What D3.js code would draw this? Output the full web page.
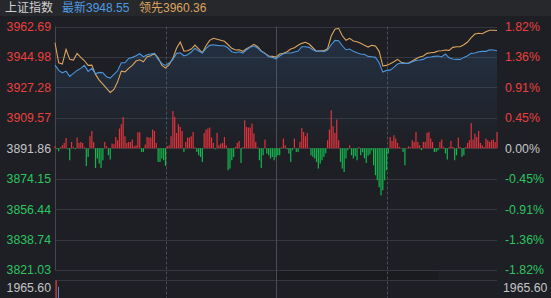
<!DOCTYPE html>
<html><head><meta charset="utf-8">
<script src="https://cdn.jsdelivr.net/npm/d3@7"></script>
<style>
html,body{margin:0;padding:0;background:#1e1f24;overflow:hidden;}
svg{display:block;}
</style></head>
<body><svg id="c" width="551" height="298"></svg>
<script>
// ---------- DATA ----------
const indexName = "上证指数";
const latestLabel = "最新3948.55";
const leadingLabel = "领先3960.36";
const prevClose = 3891.86;
const priceTicks = [3962.69, 3944.98, 3927.28, 3909.57, 3891.86, 3874.15, 3856.44, 3838.74, 3821.03];
const pctLabels = ["1.82%", "1.36%", "0.91%", "0.45%", "0.00%", "-0.45%", "-0.91%", "-1.36%", "-1.82%"];
const volumeMaxLabel = "1965.60";
const volumeFirst = [1965.60, 1270];   // first-minute volume bars (red, blue)

// minute of day for line samples (every 2 minutes, 0..240)
const lineMinutes = d3.range(0, 241, 2);
// 最新 (index, blue)
const latest = [
 3940.24,3937.15,3935.75,3936.75,3933.66,3935.40,3937.15,3938.32,3940.07,3936.57,
 3938.32,3935.17,3935.99,3935.75,3933.42,3932.67,3934.82,3936.92,3941.58,3941.58,
 3944.15,3944.73,3945.66,3946.83,3945.08,3946.25,3946.66,3947.06,3943.57,3941.23,
 3940.07,3941.41,3943.57,3947.06,3947.41,3945.66,3946.25,3947.82,3949.98,3948.40,
 3947.24,3949.98,3951.73,3952.08,3951.73,3951.49,3951.49,3950.15,3948.00,3947.41,
 3948.00,3947.24,3949.16,3950.56,3951.32,3950.15,3948.23,3947.06,3945.08,3944.73,
 3943.92,3945.49,3946.83,3947.24,3947.24,3947.82,3948.40,3950.91,3950.91,3950.56,
 3949.16,3948.23,3948.40,3948.00,3948.99,3952.08,3954.64,3954.41,3951.49,3949.16,
 3949.57,3948.23,3947.41,3946.66,3946.48,3945.31,3945.08,3944.73,3941.58,3936.16,
 3937.15,3937.33,3938.90,3940.83,3941.41,3941.23,3941.23,3942.17,3942.98,3943.16,
 3943.57,3944.73,3944.91,3945.31,3945.49,3945.08,3946.66,3944.50,3943.74,3943.57,
 3943.57,3944.73,3945.66,3947.06,3947.24,3948.00,3948.23,3948.23,3949.16,3948.99,
 3948.55];
// 领先 (leading, orange)
const leading = [
 3953.24,3941.58,3940.83,3949.40,3943.57,3943.16,3947.06,3944.73,3942.75,3940.07,
 3940.24,3934.82,3931.50,3929.17,3926.66,3924.33,3926.08,3930.51,3936.75,3936.34,
 3938.32,3940.07,3942.57,3943.33,3942.17,3945.08,3945.66,3947.06,3944.50,3940.24,
 3938.49,3940.53,3944.15,3949.98,3953.65,3948.40,3948.58,3949.57,3951.90,3949.74,
 3947.41,3951.49,3954.64,3955.81,3955.22,3954.64,3954.06,3952.08,3949.98,3948.99,
 3949.16,3948.23,3949.74,3950.91,3952.31,3950.91,3948.40,3947.06,3945.49,3945.31,
 3944.91,3946.66,3947.06,3948.00,3949.57,3950.33,3951.73,3952.89,3953.48,3952.48,
 3950.33,3948.23,3948.58,3948.58,3949.74,3957.15,3961.05,3961.64,3957.32,3954.64,
 3955.81,3954.23,3953.83,3952.89,3951.73,3950.74,3951.73,3951.32,3948.23,3939.83,
 3940.07,3941.00,3942.17,3943.57,3941.82,3941.23,3941.41,3942.57,3943.92,3944.91,
 3945.49,3947.06,3947.41,3947.65,3948.40,3948.58,3948.99,3948.81,3950.56,3950.91,
 3950.91,3952.08,3953.65,3956.16,3958.31,3958.72,3958.49,3959.65,3960.47,3960.47,
 3960.36];
// red/green strength bars, one per minute (0..240)
const barValues = [
 2,-1,-3,1,3,5.3,10.3,-1,-12,6.3,
 1.3,-1,10.7,5.3,6.3,5.3,1,-17.7,-8.7,12,
 17.3,6.3,-19.7,-10.3,-15.3,-19.7,-12,6.3,2,-7,
 -11.3,4.7,4,11.3,8,19.7,24,31.3,12,5.3,
 6.3,6.3,8.7,2,3,16,16,-3.7,-3.7,3.7,
 11.3,10.7,10.7,18.7,17.3,5.3,-13.7,-13.7,-10.3,-12,
 -17.7,2,3,12,37.3,31.3,15.3,24,21.3,17.3,
 -3.7,6.3,10.7,10.7,12,16.3,1,-3.7,-7,-8.7,
 -13.7,15.3,18.7,19.7,20.7,10.7,5.3,-1,15.3,3,
 4.7,5.3,11.3,3,-22,-20.3,-12,-8.7,1.3,5.3,
 7.3,-14.7,1,28,21.3,20.7,20.7,24.7,14.7,6.3,
 1,-12,-19.7,-7,8.7,-5.3,-7,-10.3,-8.7,-12,
 -9,-7,-7,1,9.7,3,-1,-5.3,-13.7,-2,
 9.7,-3.7,-3.7,6.3,20.3,16.3,12,15.3,0.5,-7,
 -8.7,-10.3,-13.7,-20.3,-15.3,-12,-8.7,-5,8,18.7,
 38,22,15.3,28.7,8,-13.7,-20.3,-23.7,-10.3,-2,
 3,-7,-10.3,-8,-12,1.3,-7,-4,-10,-14.7,
 -7.5,-6,-2,-17,-27,-32,-39,-47,-42,-32,
 -22,-5,11.3,7.3,13,9.7,5.3,1.3,0.5,-3.7,
 -17,0.5,2,1,8,6.3,16.3,6.3,3,-2,
 6.3,6.3,15.3,16.3,9.7,6.3,-3.7,-3.7,-2,6.3,
 8.7,1.3,-5.3,-11.3,1.3,7.3,1.3,-12,-7,10.7,
 1.3,-8.7,-7,1.3,5.3,8,25.3,8.7,14.7,11.3,
 17.3,5.3,3,1.3,9.7,8,6.3,8,8.7,6.3,
 16.3];
const hourMarks = [60, 120, 180];

// ---------- LAYOUT ----------
const W = 551, H = 298;
const L = 55, R = 497, T = 26.5, B = 270;
const volTop = 280.5, volBottom = 298;
const FONT = "'Liberation Sans', Arial, 'Noto Sans CJK SC', sans-serif";
const RED = "#e9403f", GREEN = "#2cc461", GRAY = "#c4c5c8";
const BLUE = "#4b95dc", ORANGE = "#dca45e";
const BAR_UP = "#e0333c", BAR_DOWN = "#14b84e";

const svg = d3.select("#c");
svg.append("rect").attr("width", W).attr("height", H).attr("fill", "#1e1f24");
svg.append("rect").attr("width", W).attr("height", 16).attr("fill", "#27282c");

const x = d3.scaleLinear().domain([0, 240]).range([L, R]);
const y = d3.scaleLinear().domain([priceTicks[priceTicks.length-1], priceTicks[0]]).range([B, T]);
const y0 = y(prevClose);
const yBar = d3.scaleLinear().domain([-60, 60]).range([y0 + 60, y0 - 60]);
const yVol = d3.scaleLinear().domain([0, 1965.60]).range([volBottom, volTop]);

// faint dark strip under the plot
svg.append("rect").attr("x", 275).attr("y", 271).attr("width", 163).attr("height", 9).attr("fill", "#1a1b1f");

// horizontal grid
svg.append("g").attr("transform", `translate(${L},0)`)
  .call(d3.axisLeft(y).tickValues(priceTicks).tickSize(-(R - L)).tickFormat(""))
  .call(g => g.select(".domain").remove())
  .call(g => g.selectAll("line").attr("stroke", "#34373e").attr("shape-rendering", "crispEdges"));

// separator line for volume area
svg.append("line").attr("x1", L).attr("x2", R).attr("y1", volTop).attr("y2", volTop)
  .attr("stroke", "#34373e").attr("shape-rendering", "crispEdges");

// left border
svg.append("line").attr("x1", L + 0.5).attr("x2", L + 0.5).attr("y1", T).attr("y2", B)
  .attr("stroke", "#43464d");

// vertical hour lines
svg.append("g").selectAll("line").data(hourMarks).join("line")
  .attr("x1", d => Math.round(x(d)) + 0.5).attr("x2", d => Math.round(x(d)) + 0.5)
  .attr("y1", T).attr("y2", H)
  .attr("stroke", "#4a4d55")
  .attr("stroke-dasharray", d => d === 120 ? null : "3,2");

// area gradient under latest
const defs = svg.append("defs");
const grad = defs.append("linearGradient").attr("id", "ag")
  .attr("gradientUnits", "userSpaceOnUse").attr("x1", 0).attr("x2", 0).attr("y1", T).attr("y2", y0);
grad.append("stop").attr("offset", "0%").attr("stop-color", "#3a78c0").attr("stop-opacity", 0.22);
grad.append("stop").attr("offset", "100%").attr("stop-color", "#3a78c0").attr("stop-opacity", 0.0);

const area = d3.area().x((d, i) => x(lineMinutes[i])).y0(y0).y1(d => y(d));
svg.append("path").datum(latest).attr("d", area).attr("fill", "url(#ag)");

// bars
svg.append("g").selectAll("rect").data(barValues).join("rect")
  .attr("x", (d, i) => x(i) - 0.6)
  .attr("width", 1.2)
  .attr("y", d => d >= 0 ? yBar(d) : y0)
  .attr("height", d => Math.abs(yBar(d) - y0))
  .attr("fill", d => d >= 0 ? BAR_UP : BAR_DOWN);

// lines
const line = d3.line().x((d, i) => x(lineMinutes[i])).y(d => y(d));
svg.append("path").datum(leading).attr("d", line).attr("fill", "none").attr("stroke", ORANGE).attr("stroke-width", 1.1);
svg.append("path").datum(latest).attr("d", line).attr("fill", "none").attr("stroke", BLUE).attr("stroke-width", 1.1);

// left axis labels
const colorFor = v => v > prevClose + 0.001 ? RED : (v < prevClose - 0.001 ? GREEN : GRAY);
svg.append("g").attr("transform", `translate(${L},0)`)
  .call(d3.axisLeft(y).tickValues(priceTicks).tickSize(0).tickPadding(4).tickFormat(d => d.toFixed(2)))
  .call(g => g.select(".domain").remove())
  .call(g => g.selectAll("text").attr("fill", d => colorFor(d)).style("font-family", FONT).style("font-size", "12.3px"));

// right axis labels
svg.append("g").attr("transform", `translate(${R},0)`)
  .call(d3.axisRight(y).tickValues(priceTicks).tickSize(0).tickPadding(8).tickFormat((d, i) => pctLabels[i]))
  .call(g => g.select(".domain").remove())
  .call(g => g.selectAll("text").attr("fill", d => colorFor(d)).style("font-family", FONT).style("font-size", "12.3px"));

// volume first bars
svg.append("rect").attr("x", x(0) + 0.5).attr("width", 1.2).attr("y", yVol(volumeFirst[0])).attr("height", volBottom - yVol(volumeFirst[0])).attr("fill", "#e24b4d");
svg.append("rect").attr("x", x(0) + 3).attr("width", 1).attr("y", yVol(volumeFirst[1])).attr("height", volBottom - yVol(volumeFirst[1])).attr("fill", "#5a86c4");

// volume labels
svg.append("text").attr("x", 51).attr("y", 288).attr("dy", "0.35em").attr("text-anchor", "end")
  .attr("fill", GRAY).style("font-family", FONT).style("font-size", "12.3px").text(volumeMaxLabel);
svg.append("text").attr("x", 503).attr("y", 288).attr("dy", "0.35em")
  .attr("fill", GRAY).style("font-family", FONT).style("font-size", "12.3px").text(volumeMaxLabel);

// header
svg.append("text").attr("x", 5).attr("y", 12).attr("fill", "#d0d0d2").style("font-family", FONT).style("font-size", "12px").text(indexName);
svg.append("text").attr("x", 62).attr("y", 12).attr("fill", "#4d9be2").style("font-family", FONT).style("font-size", "12px").text(latestLabel);
svg.append("text").attr("x", 139).attr("y", 12).attr("fill", "#dca45e").style("font-family", FONT).style("font-size", "12px").text(leadingLabel);
</script></body></html>
